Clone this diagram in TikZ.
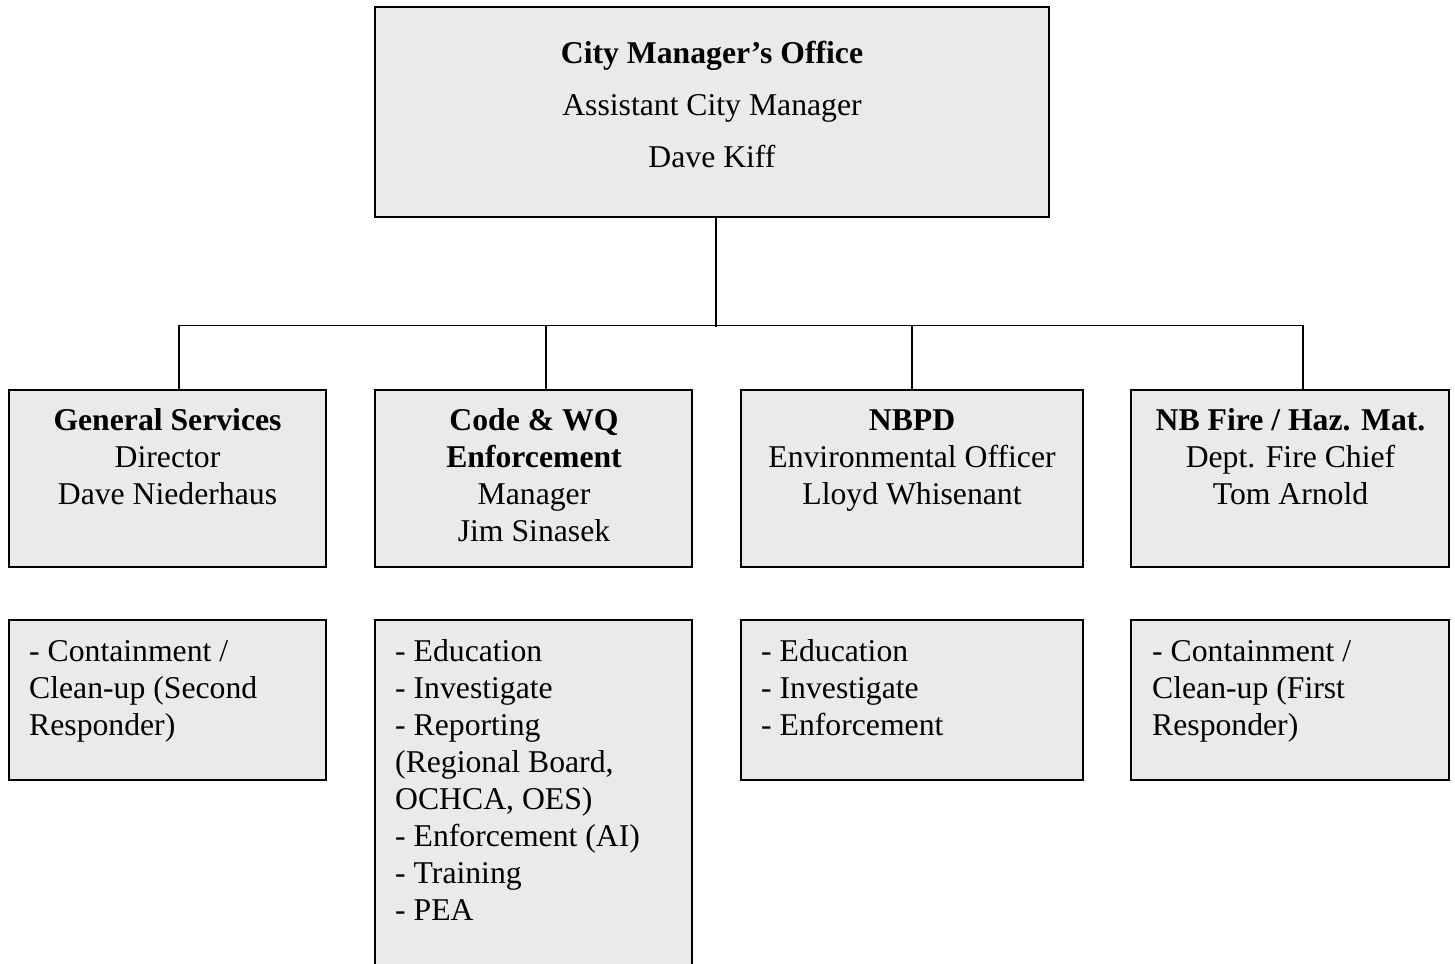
\documentclass[tikz,border=0pt]{standalone}
\usepackage{fontspec}
\setmainfont{Liberation Serif}
\definecolor{boxfill}{HTML}{EAEAEA}
\begin{document}
\begin{tikzpicture}[x=1pt,y=-1pt,
  box/.style={draw=black,line width=1.6pt,fill=boxfill,inner sep=0pt,rectangle},
  conn/.style={draw=black,line width=1.4pt},
  head/.style={anchor=north,inner sep=0pt,align=center,font=\fontsize{31.7}{37}\selectfont},
  tophead/.style={anchor=north,inner sep=0pt,align=center,font=\fontsize{31.7}{52}\selectfont},
  duties/.style={anchor=north west,inner sep=0pt,align=left,font=\fontsize{31.7}{37}\selectfont}]
\clip (0,0) rectangle (1455,963);
\fill[white] (0,0) rectangle (1455,963);
% top
\node[box,minimum width=674pt,minimum height=210pt] (top) at (712,112) {};
\node[tophead] (toptext) at (712,38) {\rule{0pt}{25pt}\textbf{City Manager’s Office}\\Assistant City Manager\\Dave Kiff};
% second row
\node[box,minimum width=317pt,minimum height=177pt] (gs) at (167.5,478.5) {};
\node[box,minimum width=317pt,minimum height=177pt] (code) at (533.5,478.5) {};
\node[box,minimum width=342pt,minimum height=177pt] (nbpd) at (912,478.5) {};
\node[box,minimum width=318pt,minimum height=177pt] (fire) at (1290,478.5) {};
\node[head] (gstext) at (167.5,405) {\rule{0pt}{25pt}\textbf{General Services}\\Director\\Dave Niederhaus};
\node[head] (codetext) at (534,405) {\rule{0pt}{25pt}\textbf{Code \& WQ}\\\textbf{Enforcement}\\Manager\\Jim Sinasek};
\node[head] (nbpdtext) at (912,405) {\rule{0pt}{25pt}\textbf{NBPD}\\Environmental Officer\\Lloyd Whisenant};
\node[head] (firetext) at (1290.5,405) {\rule{0pt}{25pt}\textbf{NB Fire / Haz. Mat.}\\Dept. Fire Chief\\Tom Arnold};
% third row
\node[box,minimum width=317pt,minimum height=160pt] (gsl) at (167.5,700) {};
\node[box,minimum width=317pt,minimum height=355pt] (codel) at (533.5,797.5) {};
\node[box,minimum width=342pt,minimum height=160pt] (nbpdl) at (912,700) {};
\node[box,minimum width=318pt,minimum height=160pt] (firel) at (1290,700) {};
\node[duties] (gsltext) at (29,636) {\rule{0pt}{25pt}- Containment /\\Clean-up (Second\\Responder)};
\node[duties] (codeltext) at (395,636) {\rule{0pt}{25pt}- Education\\- Investigate\\- Reporting\\(Regional Board,\\OCHCA, OES)\\- Enforcement (AI)\\- Training\\- PEA};
\node[duties] (nbpdltext) at (761,636) {\rule{0pt}{25pt}- Education\\- Investigate\\- Enforcement};
\node[duties] (fireltext) at (1152,636) {\rule{0pt}{25pt}- Containment /\\Clean-up (First\\Responder)};
% connectors
\draw[conn] ([xshift=4pt]top.south) -- ++(0,109);
\draw[conn] ([xshift=11.5pt]gs.north) -- ++(0,-64) -| ([xshift=13pt]fire.north);
\draw[conn] ([xshift=12.5pt]code.north) -- ++(0,-64);
\draw[conn] (nbpd.north) -- ++(0,-64);
\end{tikzpicture}
\end{document}
